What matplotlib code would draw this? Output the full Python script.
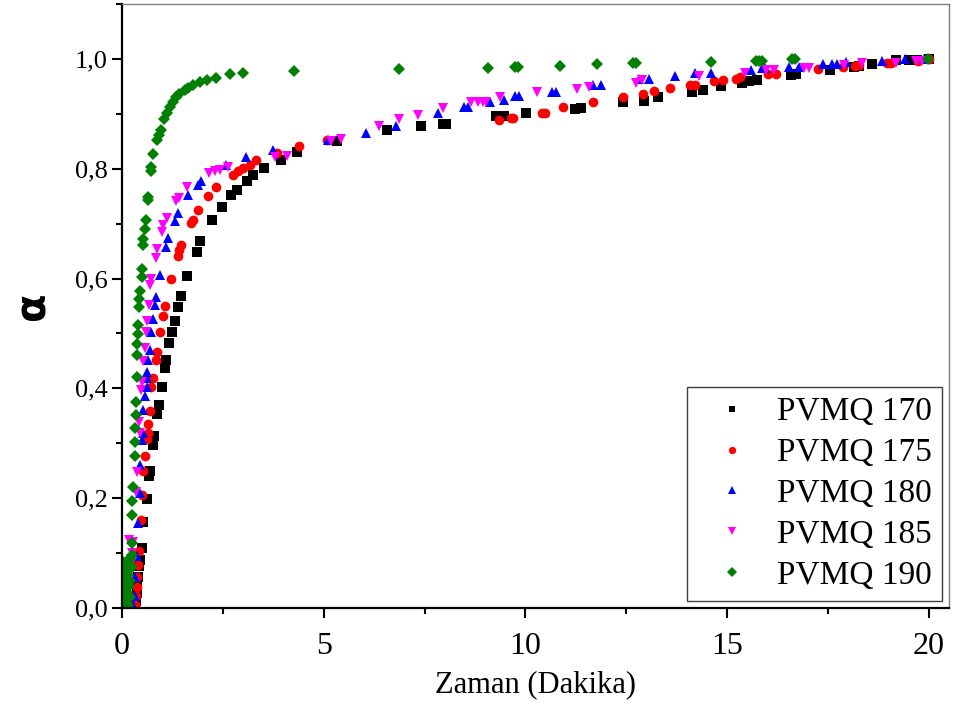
import numpy as np
import matplotlib
matplotlib.use('Agg')
import matplotlib.pyplot as plt
from matplotlib.ticker import MultipleLocator, FuncFormatter

# ============================================================
# Dados
# ============================================================

labels = ['PVMQ 170', 'PVMQ 175', 'PVMQ 180', 'PVMQ 185', 'PVMQ 190']

x170 = [0.33, 0.35, 0.36, 0.38, 0.40, 0.43, 0.45, 0.49, 0.53, 0.61, 0.68, 0.69,
        0.78, 0.80, 0.87, 0.92, 0.98, 1.06, 1.09, 1.17, 1.23, 1.31, 1.39, 1.46,
        1.62, 1.85, 1.93, 2.24, 2.47, 2.71, 2.84, 3.09, 3.25, 3.52, 3.94, 4.34,
        5.33, 6.57, 7.40, 7.95, 8.04, 9.27, 9.40, 9.48, 10.02, 11.24, 11.38,
        12.41, 12.93, 13.28, 14.14, 14.39, 14.84, 15.38, 15.53, 15.73, 16.58,
        16.70, 17.54, 18.14, 18.27, 18.60, 19.19, 19.50, 19.71, 20.0]
y170 = [0.002, 0.012, 0.027, 0.045, 0.057, 0.077, 0.087, 0.110, 0.157, 0.198,
        0.240, 0.250, 0.297, 0.313, 0.353, 0.370, 0.402, 0.437, 0.451, 0.482,
        0.502, 0.523, 0.549, 0.568, 0.604, 0.649, 0.669, 0.707, 0.731, 0.752,
        0.761, 0.778, 0.789, 0.801, 0.816, 0.831, 0.851, 0.871, 0.878, 0.882,
        0.882, 0.896, 0.896, 0.896, 0.901, 0.908, 0.910, 0.921, 0.924, 0.931,
        0.940, 0.944, 0.951, 0.956, 0.959, 0.962, 0.971, 0.973, 0.980, 0.986,
        0.987, 0.991, 0.998, 0.998, 0.998, 1.0]

x175 = [0.33, 0.35, 0.36, 0.38, 0.40, 0.43, 0.46, 0.49, 0.53, 0.57, 0.63, 0.65,
        0.65, 0.69, 0.73, 0.77, 0.84, 0.86, 0.94, 1.02, 1.06, 1.21, 1.38, 1.42,
        1.46, 1.72, 1.77, 1.89, 2.14, 2.34, 2.76, 2.88, 3.00, 3.17, 3.32, 3.83,
        4.39, 5.07, 9.34, 9.64, 9.70, 10.41, 10.48, 10.94, 11.67, 12.43, 12.92,
        13.19, 13.58, 14.08, 14.21, 14.68, 14.90, 15.22, 15.31, 16.02, 16.21,
        17.26, 17.87, 18.18, 18.27, 18.97, 19.05, 19.74, 20.0]
y175 = [0.005, 0.021, 0.039, 0.057, 0.078, 0.103, 0.160, 0.206, 0.250, 0.277,
        0.307, 0.319, 0.336, 0.358, 0.402, 0.418, 0.451, 0.467, 0.503, 0.531,
        0.550, 0.600, 0.641, 0.652, 0.661, 0.701, 0.707, 0.725, 0.750, 0.767,
        0.789, 0.795, 0.801, 0.807, 0.815, 0.829, 0.842, 0.852, 0.888, 0.892,
        0.893, 0.902, 0.902, 0.912, 0.921, 0.931, 0.937, 0.942, 0.947, 0.953,
        0.953, 0.959, 0.962, 0.963, 0.967, 0.973, 0.973, 0.981, 0.985, 0.987,
        0.988, 0.993, 0.993, 0.997, 1.0]

x180 = [0.28, 0.31, 0.32, 0.36, 0.40, 0.45, 0.45, 0.49, 0.51, 0.53, 0.56, 0.61,
        0.61, 0.61, 0.65, 0.69, 0.73, 0.76, 0.82, 0.84, 0.94, 1.09, 1.15, 1.31,
        1.39, 1.64, 1.89, 1.97, 2.59, 3.07, 3.75, 5.11, 6.06, 6.78, 7.83, 8.49,
        8.57, 9.11, 9.46, 9.73, 9.85, 10.66, 10.76, 11.67, 11.87, 12.82, 13.07,
        13.71, 14.21, 14.60, 15.59, 15.86, 15.95, 16.53, 16.78, 17.38, 17.61,
        17.73, 17.94, 18.83, 19.42, 19.88]
y180 = [0.005, 0.021, 0.057, 0.094, 0.154, 0.209, 0.260, 0.306, 0.318, 0.361,
        0.386, 0.403, 0.418, 0.430, 0.452, 0.470, 0.502, 0.526, 0.552, 0.567,
        0.607, 0.657, 0.673, 0.704, 0.719, 0.752, 0.770, 0.777, 0.807, 0.821,
        0.834, 0.852, 0.865, 0.878, 0.901, 0.912, 0.912, 0.922, 0.925, 0.933,
        0.933, 0.940, 0.940, 0.953, 0.953, 0.963, 0.963, 0.969, 0.974, 0.975,
        0.980, 0.983, 0.983, 0.985, 0.985, 0.991, 0.991, 0.991, 0.995, 0.997,
        0.999, 1.0]

x185 = [0.03, 0.03, 0.18, 0.24, 0.26, 0.28, 0.35, 0.36, 0.43, 0.45, 0.46, 0.49,
        0.51, 0.57, 0.59, 0.61, 0.68, 0.69, 0.73, 0.84, 0.87, 0.98, 1.02, 1.11,
        1.34, 1.42, 1.62, 2.16, 2.30, 2.43, 2.63, 3.79, 4.08, 5.19, 5.44, 6.37,
        6.86, 7.33, 7.95, 8.66, 8.82, 8.95, 9.03, 9.36, 10.28, 11.29, 11.58,
        12.74, 12.90, 14.31, 15.45, 15.96, 16.16, 16.91, 17.03, 17.90, 18.35,
        19.18, 19.67, 19.83]
y185 = [0.024, 0.069, 0.124, 0.084, 0.100, 0.121, 0.212, 0.247, 0.338, 0.318,
        0.397, 0.412, 0.449, 0.473, 0.502, 0.522, 0.552, 0.588, 0.600, 0.637,
        0.653, 0.684, 0.698, 0.710, 0.742, 0.746, 0.766, 0.792, 0.795, 0.798,
        0.804, 0.821, 0.823, 0.850, 0.854, 0.878, 0.890, 0.898, 0.910, 0.921,
        0.922, 0.922, 0.922, 0.930, 0.939, 0.945, 0.948, 0.957, 0.961, 0.969,
        0.975, 0.979, 0.979, 0.983, 0.983, 0.989, 0.992, 0.993, 0.997, 0.997]

x190 = [0.01, 0.02, 0.03, 0.03, 0.04, 0.05, 0.06, 0.07, 0.08, 0.09, 0.10, 0.11,
        0.12, 0.13, 0.14, 0.15, 0.16, 0.17, 0.18, 0.19, 0.20, 0.21, 0.22, 0.24,
        0.24, 0.24, 0.26, 0.26, 0.28, 0.31, 0.32, 0.32, 0.35, 0.35, 0.36, 0.38,
        0.38, 0.39, 0.40, 0.43, 0.43, 0.45, 0.49, 0.49, 0.51, 0.53, 0.57, 0.59,
        0.64, 0.65, 0.71, 0.73, 0.78, 0.87, 0.92, 0.96, 1.04, 1.11, 1.19, 1.27,
        1.35, 1.42, 1.56, 1.64, 1.75, 1.93, 2.11, 2.34, 2.67, 3.00, 4.26, 6.86,
        9.07, 9.73, 9.81, 10.86, 11.77, 12.66, 12.74, 14.60, 15.72, 15.79,
        15.87, 16.60, 16.68, 19.98]
y190 = [0.005, 0.030, 0.084, 0.015, 0.050, 0.020, 0.065, 0.015, 0.040, 0.075,
        0.010, 0.050, 0.085, 0.030, 0.060, 0.005, 0.080, 0.040, 0.070, 0.020,
        0.090, 0.050, 0.075, 0.097, 0.118, 0.075, 0.169, 0.195, 0.221, 0.277,
        0.303, 0.327, 0.352, 0.376, 0.421, 0.461, 0.481, 0.499, 0.515, 0.548,
        0.562, 0.578, 0.602, 0.617, 0.661, 0.672, 0.690, 0.707, 0.743, 0.749,
        0.795, 0.804, 0.827, 0.852, 0.862, 0.871, 0.890, 0.901, 0.913, 0.922,
        0.930, 0.936, 0.944, 0.947, 0.953, 0.958, 0.962, 0.965, 0.972, 0.975,
        0.978, 0.981, 0.983, 0.986, 0.986, 0.987, 0.991, 0.992, 0.992, 0.995,
        0.997, 0.997, 0.997, 0.9995, 0.9995, 1.0]

series = [(x170, y170), (x175, y175), (x180, y180), (x185, y185), (x190, y190)]
colors = ['black', 'red', 'blue', 'magenta', 'green']
markers = ['s', 'o', '^', 'v', 'D']
msizes = [6.5, 7, 7.5, 7.5, 6.5]

# ============================================================
# Figura
# ============================================================

plt.rcParams['font.family'] = ['Liberation Serif', 'DejaVu Serif']

fig = plt.figure(figsize=(9.54, 7.05), dpi=100)
ax = fig.add_axes([122 / 954, 97 / 705, 827 / 954, 604 / 705])

for (xs, ys), c, m, ms, lab in zip(series, colors, markers, msizes, labels):
    ax.plot(xs, ys, ls='none', marker=m, color=c, markersize=ms,
            markeredgewidth=0, label=lab)

ax.set_xlim(0, 20.5)
ax.set_ylim(0, 1.1)

ax.xaxis.set_major_locator(MultipleLocator(5))
ax.xaxis.set_minor_locator(MultipleLocator(2.5))
ax.yaxis.set_major_locator(MultipleLocator(0.2))
ax.yaxis.set_minor_locator(MultipleLocator(0.1))
ax.yaxis.set_major_formatter(FuncFormatter(lambda v, p: f"{v:.1f}".replace('.', ',')))

ax.tick_params(which='major', direction='out', length=7, width=1.5,
               top=False, right=False)
ax.tick_params(which='minor', direction='out', length=4.5, width=1.5,
               top=False, right=False)
ax.tick_params(axis='y', which='major', labelsize=19)
ax.tick_params(axis='x', which='major', labelsize=23, pad=10)

for s in ['left', 'bottom']:
    ax.spines[s].set_linewidth(1.6)
    ax.spines[s].set_color('black')
for s in ['top', 'right']:
    ax.spines[s].set_linewidth(1.0)
    ax.spines[s].set_color('#808080')

ax.set_xlabel('Zaman (Dakika)', fontsize=22, labelpad=7)
ax.set_ylabel('α', fontsize=30, family='DejaVu Sans', fontweight='bold',
              labelpad=15)

leg = ax.legend(loc='lower right', fontsize=24, frameon=True, fancybox=False,
                edgecolor='#404040', framealpha=1, markerscale=0.75,
                handlelength=2.05, handletextpad=0.33, borderpad=0.3,
                labelspacing=0.31, borderaxespad=0.22)
leg.get_frame().set_linewidth(1.0)

fig.savefig('out.png', dpi=100)
